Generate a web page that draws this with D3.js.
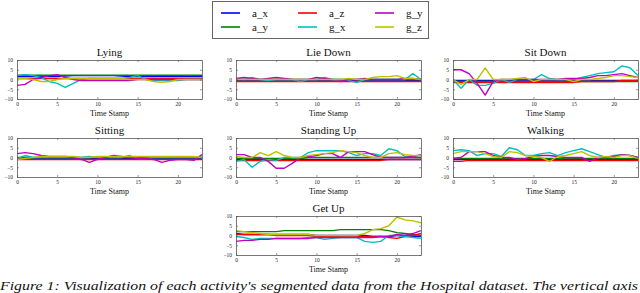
<!DOCTYPE html>
<html>
<head>
<meta charset="utf-8">
<script src="https://cdn.jsdelivr.net/npm/d3@7"></script>
<style>
  body { margin: 0; background: #fff; }
  svg { display: block; }
  svg text { font-family: "Times New Roman", "Liberation Serif", Times, serif; }
</style>
</head>
<body>
<div id="chart"></div>
<script>
// series names and colours (MATLAB style)
var seriesNames = ["a_x", "a_y", "a_z", "g_x", "g_y", "g_z"];
var seriesColors = ["#0000ff", "#008000", "#ff0000", "#00bfbf", "#bf00bf", "#bfbf00"];
var timeStamps = d3.range(0, 24);
var xTicks = [0, 5, 10, 15, 20];
var yTicks = [10, 5, 0, -5, -10];
var activities = ["Lying", "Lie Down", "Sit Down", "Sitting", "Standing Up", "Walking", "Get Up"];

// one array per series, 24 time stamps each
var lying = [
  [1.5,1.5,1.5,1.5,1.5,1.5,1.8,2,2,2,2,2,2,1.8,1.5,1.5,1.5,1.5,1.5,1.5,1.5,1.5,1.5,1.5],
  [2.2,2.2,2.2,2.2,2.2,2.2,2.2,2.2,2.2,2.2,2.2,2.2,2.2,2.2,2.2,2.2,2.2,2.2,2.2,2.2,2.2,2.2,2.2,2.2],
  [0.5,0.5,0.5,0.5,0.5,0.5,0.5,0.5,0.5,0.5,0.5,0.5,0.5,0.5,0.5,0.5,0.5,0.5,0.5,0.5,0.5,0.5,0.5,0.5],
  [2,2.5,2,1,-1,-2,-4,-2,0,0.5,0.5,0.5,0.5,0.5,1,2,0,-0.5,-0.5,-0.5,-0.5,0,0,0],
  [-3,-2.5,0,1,2,2.5,1,0,-0.5,-0.5,-0.5,-0.5,-0.5,-0.5,-0.5,0,0,0,0,0,0,0,0,0],
  [0.5,0.5,0,-1,-1,0,0.5,0.5,0.5,0.5,0.5,0.5,0.5,0.5,0,0,0,-1,-1.5,-1,0,0,0,0]
];
var lieDown = [
  [-0.5,-0.5,-0.5,-0.5,-0.5,-0.5,-0.5,-0.5,-0.5,-0.5,-0.5,-0.5,-0.5,-0.5,-0.5,-0.5,-0.5,-0.5,-0.5,-0.5,-0.5,-0.5,-0.5,-0.5],
  [0,0,0,0,0,0,0,0,0,0,0,0,0,0,0,0,0,0,0,0,0,0,0,0],
  [-1,-1,-1,-1,-1,-1,-1,-1,-1,-1,-1,-1,-1,-1,-1,-1,-1,-1,-1,-1,-1,-1,-1,-1],
  [0.5,0,1,0,-0.5,0,0,0,-1,0,0,1,0,0,-0.5,-1.5,0,0,0,0,0,0,3,0],
  [0.5,1,0.5,0,0.5,1,0.5,0,0,0,1,0.5,0,-1,0,0,0.5,0,0,0,0,0.5,0.5,0],
  [0,0,0,0,0,0,0,0,0,0,0,0,0,0,0.5,0,0,1,1.5,1.5,2,0.5,0.5,0]
];
var sitDown = [
  [-0.5,-0.5,-0.5,-0.5,-0.5,-0.5,-0.5,-0.5,-0.5,-0.5,-0.5,-0.5,-0.5,-0.5,-0.5,-0.5,-0.5,-0.5,-0.5,-0.5,-0.5,-0.5,-0.5,-0.5],
  [-1,-1,-1,-1,-1,-1,-1,-1,-1,-1,-1,-1,-1,-1,-1,-1,-1,-1,-1,-1,-1,-1,-1,-1],
  [-1.5,-1.5,-1.5,-1.5,-1.5,-1.5,-1.5,-1.5,-1.5,-1.5,-1.5,-1.5,-1.5,-1.5,-1.5,-1.5,-1,-1,-1,-1,-1,-0.5,-0.5,-0.5],
  [0,-4.5,0,-3,-3,-2,0,-1.5,0,0,0,2.5,0.5,0,0,0,1,2,3,3.5,4,7,6,2],
  [5,5,3,-2,-8,-1,0,0,0,0,0,0,0,0,0.5,0.5,0.5,1,2,2,2.5,3,2,1],
  [0,-2.5,0,0,6,0,0,0,0.5,1,-1,0,0,0,0,-1,0,0,0.5,1,2,2,1.5,1]
];
var sitting = [
  [-0.5,-0.5,-0.5,-0.5,-0.5,-0.5,-0.5,-0.5,-0.5,-0.5,-0.5,-0.5,-0.5,-0.5,-0.5,-0.5,-0.5,-0.5,-0.5,-0.5,-0.5,-0.5,-0.5,-0.5],
  [0,0,0,0,0,0,0,0,0,0,0,0,0,0,0,0,0,0,0,0,0,0,0,0],
  [-1,-1,-1,-1,-1,-1,-1,-1,-1,-1,-1,-1,-1,-1,-1,-1,-1,-1,-1,-1,-1,-1,-1,-1],
  [-0.5,1,0,0,0,0,0,0,0,0.5,0,0,0,0,1,-0.5,-0.5,0,0,0,0,0,0,0],
  [2,2.5,2,1,0.5,0.5,0.5,0,-1,-2.5,-1,0,1,0.5,0,-0.5,-0.5,-1,-2.5,-1.5,-1,-1,-1.5,1.5],
  [-1,-0.5,0,0.5,0.5,0.5,0.5,0.5,0,0,0.5,0.5,0.5,0.5,0.5,0.5,0.5,0.5,0.5,0.5,0.5,0.5,0.5,0]
];
var standingUp = [
  [-1,-1,-1,-1,-1,-1,-1,-1,-1,-1,-1,-1,-1,-1,-1,-1,-1,-1,-1,-1,-1,-1,-1,-1],
  [-0.5,-0.5,-0.5,-0.5,-0.5,-0.5,-0.5,-0.5,-0.5,0,0,0,0,0,0,0,0,0,0,0,0,0,0,0],
  [-1.5,-1.5,-1.5,-1.5,-1.5,-1.5,-1.5,-1.5,-1.5,-1.5,-1.5,-1.5,-1.5,-1.5,-1.5,-1.5,-1.5,-1.5,-1.5,-1,-1,-1,-1,-1],
  [-2,-1,-5,-2,-1,-1.5,0,0,0,2.5,3.5,3.5,3.5,3.5,2.5,1,2,2,1,4.5,3.5,0.5,0.5,1],
  [1.5,1.5,0,0,-2,-5.5,-5.5,-3,0,0.5,1,2,2,0,3,3,3,1.5,0,0,0,0,0.5,1.5],
  [0.5,0,0,2.5,1,3,1,0,0,1,1.5,2,2.5,3.5,3,2.5,1,0,0,2,2.5,1.5,1,1]
];
var walking = [
  [-1,-1,-1,-1,-1,-1,-1,-1,-1,-1,-1,-1,-1,-1,-1,-1,-1,-1,-1,-1,-1,-1,-1,-1],
  [-0.5,-0.5,-0.5,-0.5,-0.5,-0.5,-0.5,-0.5,-0.5,-0.5,-0.5,-0.5,-0.5,-0.5,-0.5,-0.5,-0.5,-0.5,-0.5,-0.5,-0.5,-0.5,-0.5,-0.5],
  [-2,-2,-1.5,-1.5,-1.5,-1.5,-1.5,-1.5,-1.5,-1.5,-1.5,-1.5,-1.5,-1.5,-1.5,-1.5,-1.5,-1.5,-1.5,-1.5,-1.5,-1.5,-1.5,-1.5],
  [3.5,4,3.5,1,2,2,0.5,5,4,1,1,2,2.5,1,2.5,3.5,4.5,3,1.5,0,1,1.5,1,0],
  [-0.5,0,3,3,3,1,0,0,-1,-0.5,0.5,1,1,0.5,0,0,0,-2,0,0,0.5,1.5,1,0],
  [2,3,3,3,2,0.5,0,3,2.5,1,0.5,0,-2,0.5,1,2,3,1,0,0.5,0,1,1,-0.5]
];
var getUp = [
  [1,0.5,0.5,0.5,0.5,0.5,0.5,0.5,0.5,0.5,0,0,0,0,0,0,0,-0.5,-0.5,-0.5,0,0,-0.5,-0.5],
  [2,2,2,2,2,2,2.5,2.5,2.5,2.5,2.5,2.5,2.5,3,3,3,3,3,3,2.5,1.5,1,0.5,0],
  [0.5,0.5,0.5,0.5,0.5,0,0,0,0,0,-0.5,-0.5,-0.5,-0.5,-0.5,-0.5,-0.5,-0.5,-0.5,-1,-1.5,-0.5,0,1],
  [-0.5,-1,-2,-1.5,-1.5,-1.5,-1.5,-1.5,-1.5,-1,-1,-2,-1.5,-1,-1,-1,-3,-3.5,-3,0,0,-0.5,-1,-1.5],
  [-3,-2.5,-2.5,-2,-2,-1.5,-1.5,-1.5,-1.5,-1.5,-1,-1,-1,-1,-1,-1,-1,-1,-0.5,-0.5,0.5,0,1,2.5],
  [2.5,2,1.5,1,0.5,0.5,0.5,0.5,0.5,0.5,0,0,0,0,0,0,1,3,3.5,5,9.5,8,7.5,6.5]
];
var panelData = [lying, lieDown, sitDown, sitting, standingUp, walking, getUp];

var width = 640, height = 293;
var serif = "'Times New Roman', 'Liberation Serif', Times, serif";
var svg = d3.select("#chart").append("svg")
  .attr("width", width).attr("height", height);

// panel placement: left, top
var pw = 185, ph = 39;
var panelPos = [[17, 60], [236, 60], [453, 60], [17, 138], [236, 138], [453, 138], [236, 216]];

var x = d3.scaleLinear().domain([0, 23]).range([0, pw]);
var y = d3.scaleLinear().domain([-10, 10]).range([ph, 0]);
var line = d3.line().x((d, i) => x(timeStamps[i])).y(d => y(d));

activities.forEach(function (name, k) {
  var g = svg.append("g")
    .attr("transform", `translate(${panelPos[k][0]}, ${panelPos[k][1]})`);

  g.append("defs").append("clipPath").attr("id", "clip" + k)
    .append("rect").attr("width", pw).attr("height", ph);

  var lines = g.append("g").attr("clip-path", `url(#clip${k})`);
  lines.selectAll("path")
    .data(panelData[k]).enter()
    .append("path")
    .attr("d", d => line(d))
    .attr("fill", "none")
    .attr("stroke", (d, i) => seriesColors[i])
    .attr("stroke-width", 1.4)
    .attr("stroke-linejoin", "round");

  // axes (ticks pointing inward, box on all sides)
  var xb = g.append("g").attr("transform", `translate(0, ${ph})`)
    .call(d3.axisBottom(x).tickValues(xTicks).tickSizeInner(-2).tickSizeOuter(0).tickPadding(3));
  var xt = g.append("g")
    .call(d3.axisTop(x).tickValues(xTicks).tickSizeInner(-2).tickSizeOuter(0).tickFormat(""));
  var yl = g.append("g")
    .call(d3.axisLeft(y).tickValues(yTicks).tickSizeInner(-2).tickSizeOuter(0).tickPadding(4));
  var yr = g.append("g").attr("transform", `translate(${pw}, 0)`)
    .call(d3.axisRight(y).tickValues(yTicks).tickSizeInner(-2).tickSizeOuter(0).tickFormat(""));

  [xb, xt, yl, yr].forEach(function (a) {
    a.attr("font-family", serif);
    a.select(".domain").attr("stroke", "#555").attr("stroke-width", 0.8);
    a.selectAll(".tick line").attr("stroke", "#555").attr("stroke-width", 0.6);
    a.selectAll("text").attr("font-size", 5.5).attr("fill", "#222");
  });

  g.append("text")
    .attr("x", pw / 2).attr("y", -4)
    .attr("text-anchor", "middle")
    .attr("font-size", 11)
    .attr("fill", "#111")
    .text(name);

  g.append("text")
    .attr("x", pw / 2).attr("y", ph + 17)
    .attr("text-anchor", "middle")
    .attr("font-size", 8)
    .attr("fill", "#111")
    .text("Time Stamp");
});

/* legend */
var legend = svg.append("g").attr("transform", "translate(212, 1)");
legend.append("rect")
  .attr("x", 0.5).attr("y", 0.5)
  .attr("width", 216).attr("height", 37)
  .attr("fill", "#fff").attr("stroke", "#666").attr("stroke-width", 1);

var legendOrder = [0, 2, 4, 1, 3, 5];
legendOrder.forEach(function (s, j) {
  var col = j % 3, row = Math.floor(j / 3);
  var lx = 9 + col * 77, ly = 12 + row * 14;
  legend.append("line")
    .attr("x1", lx).attr("x2", lx + 19)
    .attr("y1", ly).attr("y2", ly)
    .attr("stroke", seriesColors[s]).attr("stroke-width", 1.6);
  legend.append("text")
    .attr("x", lx + 31).attr("y", ly + 3.5)
    .attr("font-size", 11)
    .attr("fill", "#111")
    .text(seriesNames[s]);
});

/* caption under the figure */
svg.append("text")
  .attr("x", 0).attr("y", 289.5)
  .attr("font-size", 12.5)
  .attr("font-style", "italic")
  .attr("fill", "#111")
  .attr("textLength", 638)
  .attr("lengthAdjust", "spacingAndGlyphs")
  .text("Figure 1: Visualization of each activity's segmented data from the Hospital dataset. The vertical axis");
</script>
</body>
</html>
